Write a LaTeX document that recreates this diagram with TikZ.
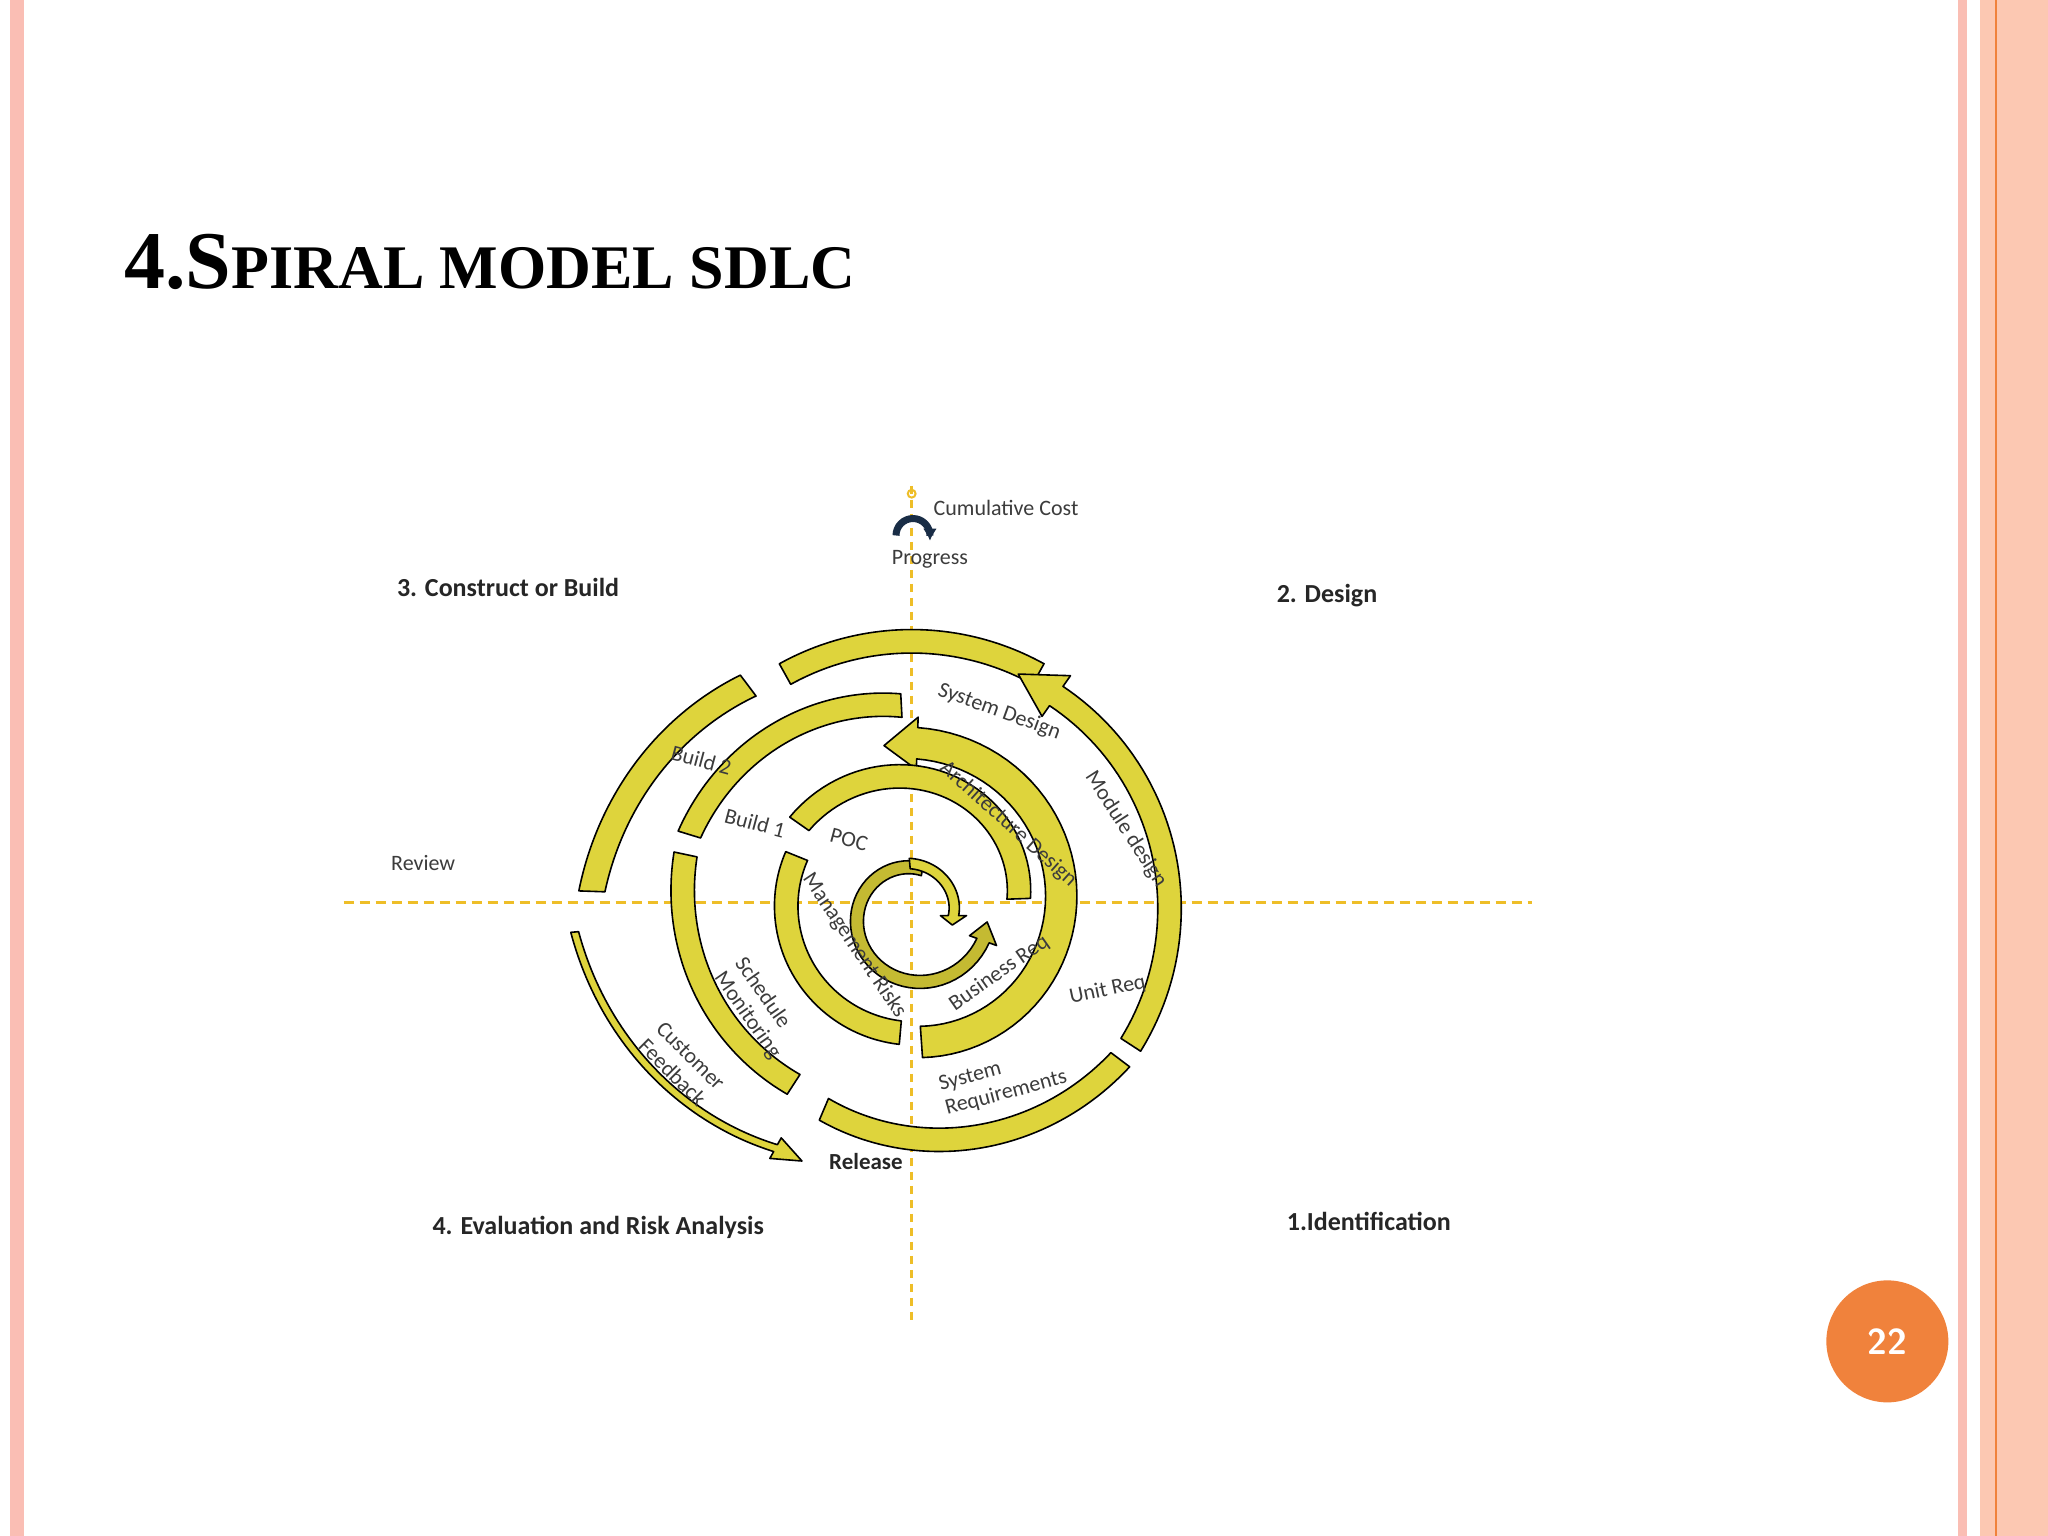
\documentclass[tikz,border=0pt]{standalone}
\usepackage{fontspec}
\usetikzlibrary{arrows.meta}
\setmainfont{Carlito}
\newfontfamily\titlefont{Liberation Serif}
\definecolor{yel}{RGB}{222,212,60}
\definecolor{yeld}{RGB}{196,186,50}
\definecolor{axis}{RGB}{238,190,40}
\definecolor{pinkA}{RGB}{250,190,180}
\definecolor{salm}{RGB}{252,200,178}
\definecolor{orng}{RGB}{240,130,60}
\definecolor{navy}{RGB}{25,45,70}
\definecolor{txt}{RGB}{60,60,60}
\newcommand\barrow[7]{% a b r1 r2 w d k
 \filldraw[bandst] plot[domain=#1:#2,samples=50] (\x:{#3+(\x-#1)/(#2-#1)*(#4-#3)+#5/2})
  -- (#2:{#4+#5/2+#7}) -- ({#2+#6}:#4) -- (#2:{#4-#5/2-#7})
  -- plot[domain=#2:#1,samples=50] (\x:{#3+(\x-#1)/(#2-#1)*(#4-#3)-#5/2}) -- cycle;}
\newcommand\band[5]{\barrow{#1}{#2}{#3}{#4}{#5}{0}{0}}
\tikzset{bandst/.style={fill=yel,draw=black,line width=0.8pt,line join=round},
 lab/.style={font=\fontsize{11}{12.5}\selectfont,text=txt,inner sep=1pt},
 quad/.style={font=\fontsize{13}{15}\selectfont\bfseries,text=black!85,inner sep=1pt}}
\begin{document}
\begin{tikzpicture}[x=0.653pt,y=0.653pt]
\useasboundingbox (0,0) rectangle (1568,1176);
\fill[white] (0,0) rectangle (1568,1176);
\fill[pinkA] (8,0) rectangle (18,1176);
\fill[pinkA] (1499,0) rectangle (1506,1176);
\fill[salm] (1516,0) rectangle (1568,1176);
\draw[orng,line width=1pt] (1528,0) -- (1528,1176);
\node[anchor=base west,inner sep=0] (title) at (95,955) {\titlefont\bfseries\fontsize{41}{46}\selectfont 4.S\fontsize{31}{40}\selectfont PIRAL MODEL SDLC};
% axes
\coordinate (atop) at (698,804); \coordinate (abot) at (698,164);
\coordinate (aleft) at (263,485); \coordinate (aright) at (1173,485);
\draw[axis,line width=1.5pt,dash pattern=on 5pt off 3pt] (aleft) -- (aright);
\draw[axis,line width=1.2pt,dash pattern=on 4pt off 3pt] (atop) -- (abot);
\draw[axis,line width=1pt] (698,798) circle (3);
% cumulative cost arch
\draw[navy,line width=3.5pt,-{Latex[length=6pt,width=7pt]}] (686,766) arc (180:0:13) -- (712,762);
\begin{scope}[shift={(698,485)}]
\band{61}{119}{200}{200}{18}
\band{127}{178}{208}{245}{20}
\barrow{185}{241}{259}{215}{6}{6}{6}
\band{247}{323}{172}{200}{18}
\barrow{-33}{55}{200}{193}{18}{10}{10}
\band{93}{163}{151}{178}{18}
\band{168}{237}{177}{166}{18}
\barrow{-86}{88}{107}{122}{24}{12}{8}
\band{2}{145}{82}{105}{18}
\band{158}{265}{95}{100}{18}
\begin{scope}[shift={(2,-10)}]
\filldraw[bandst,fill=yeld] plot[domain=80:340,samples=50] (\x:{36+(\x-80)/260*20+5}) -- (340:{56+11}) -- (355:56) -- (340:{56-11}) -- plot[domain=340:80,samples=50] (\x:{36+(\x-80)/260*20-5}) -- cycle;
\barrow{95}{0}{40}{30}{8}{-14}{6}
\end{scope}
\end{scope}
% labels
\node[lab,rotate=-20] (sd) at (765,631) {System Design};
\node[lab,rotate=-57] (md) at (862,541) {Module design};
\node[lab,rotate=-42] (ad) at (772,545) {Architecture Design};
\node[lab,rotate=-15] (b2) at (537,594) {Build 2};
\node[lab,rotate=-15] (b1) at (578,546) {Build 1};
\node[lab,rotate=-15] (poc) at (650,533) {POC};
\node[lab,rotate=-56] (mr) at (654,452) {Management Risks};
\node[lab,rotate=35] (br) at (765,431) {Business Req};
\node[lab,rotate=12] (ur) at (848,418) {Unit Req};
\node[lab,rotate=15,align=left] (sr) at (768,348) {System\\Requirements};
\node[lab,rotate=-55,align=left] (sm) at (580,404) {Schedule\\Monitoring};
\node[lab,rotate=-45,align=left] (cf) at (522,361) {Customer\\Feedback};
\node[lab] (rev) at (324,515) {Review};
\node[lab,anchor=west] (cc) at (713,787) {Cumulative Cost};
\node[lab] (pr) at (712,748) {Progress};
\node[quad,font=\fontsize{11.5}{13}\selectfont\bfseries] (rel) at (663,287) {Release};
\node[quad] (q3) at (389,726) {3. Construct or Build};
\node[quad] (q2) at (1016,720) {2. Design};
\node[quad] (q1) at (1048,241) {1.Identification};
\node[quad] (q4) at (458,236) {4. Evaluation and Risk Analysis};
\node[circle,fill=orng,minimum size=61pt,inner sep=0,text=white,font=\sffamily\bfseries\fontsize{18}{20}\selectfont] (pg) at (1445,149) {22};
\end{tikzpicture}
\end{document}
